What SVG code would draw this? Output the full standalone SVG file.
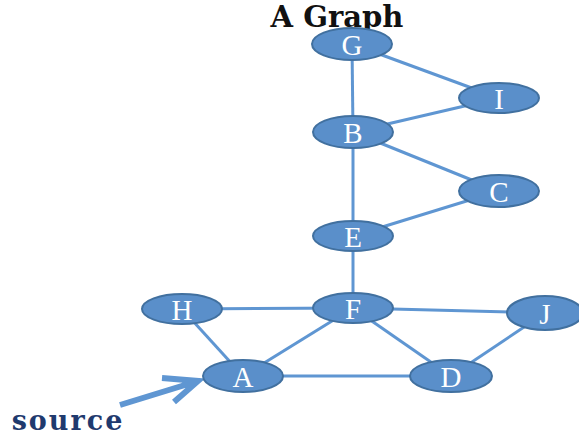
<svg xmlns="http://www.w3.org/2000/svg" width="579" height="439" viewBox="0 0 579 439">
<style>
.n ellipse{fill:#5a8fca;stroke:#41709f;stroke-width:2}
.n text{fill:#fff;font-family:"Liberation Serif",serif;font-size:29px;text-anchor:middle}
.e line,.e path{stroke:#5f96d2;stroke-width:3;fill:none}
</style>
<rect width="579" height="439" fill="#fff"/>
<text x="337" y="27" font-family="DejaVu Serif,serif" font-weight="bold" font-size="29" text-anchor="middle" fill="#111">A Graph</text>
<g class="e" id="edges">
<line x1="352" y1="44" x2="353" y2="132"/>
<line x1="352" y1="44" x2="499" y2="98"/>
<line x1="353" y1="132" x2="499" y2="98"/>
<line x1="353" y1="132" x2="499" y2="191"/>
<line x1="353" y1="132" x2="353" y2="236"/>
<line x1="499" y1="191" x2="353" y2="236"/>
<line x1="353" y1="236" x2="353" y2="308"/>
<line x1="182" y1="309" x2="353" y2="308"/>
<line x1="182" y1="309" x2="243" y2="376"/>
<line x1="353" y1="308" x2="243" y2="376"/>
<line x1="353" y1="308" x2="451" y2="376"/>
<line x1="353" y1="308" x2="545" y2="313"/>
<line x1="545" y1="313" x2="451" y2="376"/>
<line x1="243" y1="376" x2="451" y2="376"/>
<path d="M120,405 L198,381 M162,378 L198,381 L174,402" style="stroke-width:6"/>
</g>
<g class="n" id="G"><ellipse cx="352" cy="44" rx="40" ry="16"/><text x="352" y="55">G</text></g>
<g class="n" id="I"><ellipse cx="499" cy="98" rx="40" ry="15"/><text x="499" y="109">I</text></g>
<g class="n" id="B"><ellipse cx="353" cy="132" rx="40" ry="16"/><text x="353" y="143">B</text></g>
<g class="n" id="C"><ellipse cx="499" cy="191" rx="40" ry="16"/><text x="499" y="202">C</text></g>
<g class="n" id="E"><ellipse cx="353" cy="236" rx="40" ry="15"/><text x="353" y="247">E</text></g>
<g class="n" id="F"><ellipse cx="353" cy="308" rx="40" ry="15"/><text x="353" y="319">F</text></g>
<g class="n" id="H"><ellipse cx="182" cy="309" rx="40" ry="15"/><text x="182" y="320">H</text></g>
<g class="n" id="J"><ellipse cx="545" cy="313" rx="38" ry="17"/><text x="545" y="324">J</text></g>
<g class="n" id="A"><ellipse cx="243" cy="376" rx="40" ry="16"/><text x="243" y="387">A</text></g>
<g class="n" id="D"><ellipse cx="451" cy="376" rx="41" ry="16"/><text x="451" y="387">D</text></g>
<text x="68" y="430" font-family="DejaVu Serif,serif" font-weight="bold" font-size="27" letter-spacing="2" text-anchor="middle" fill="#1f3a6e">source</text>
</svg>
